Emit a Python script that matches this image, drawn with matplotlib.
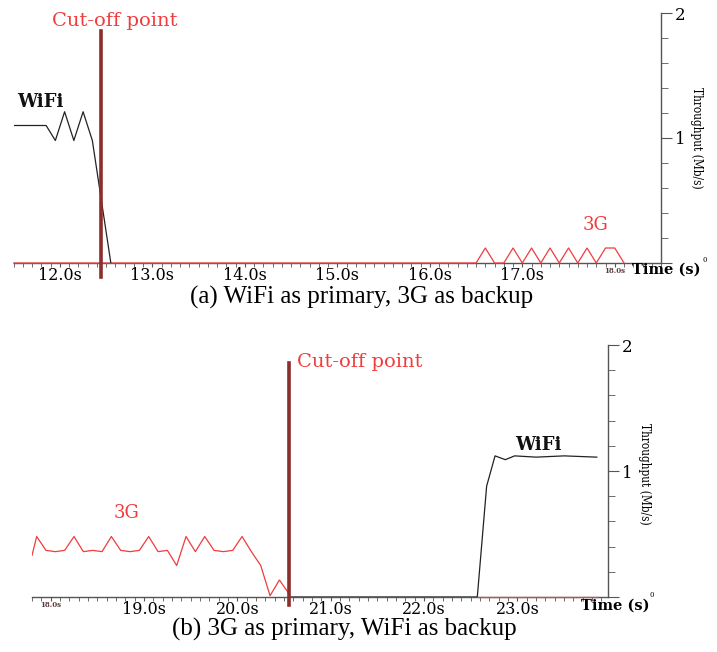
import matplotlib.pyplot as plt
import numpy as np
from matplotlib.ticker import MultipleLocator

W, H = 717, 652
RED = "#f03c3c"
CUT = "#8b2e2e"
GREY = "#555555"

# (a) WiFi primary, 3G backup
wifi_a_t = [11.5, 11.85, 11.95, 12.05, 12.15, 12.25, 12.35, 12.55]
wifi_a_v = [1.10, 1.10, 0.98, 1.21, 0.98, 1.21, 0.98, 0.0]
g3_a_t = [11.5, 16.5, 16.6, 16.7, 16.8, 16.9, 17.0, 17.1, 17.2, 17.3,
          17.4, 17.5, 17.6, 17.7, 17.8, 17.9, 18.0, 18.1]
g3_a_v = [0, 0, 0.12, 0, 0, 0.12, 0, 0.12, 0, 0.12,
          0, 0.12, 0, 0.12, 0, 0.12, 0.12, 0]
cut_a = 12.44
ticks_a = [12, 13, 14, 15, 16, 17, 18]
labels_a = ["12.0s", "13.0s", "14.0s", "15.0s", "16.0s", "17.0s", "18.0s"]

# (b) 3G primary, WiFi backup
g3_b_t = [17.8, 17.85, 17.95, 18.05, 18.15, 18.25, 18.35, 18.45, 18.55, 18.65,
          18.75, 18.85, 18.95, 19.05, 19.15, 19.25, 19.35, 19.45, 19.55, 19.65,
          19.75, 19.85, 19.95, 20.05, 20.15, 20.25, 20.35, 20.45, 20.55]
g3_b_v = [0.33, 0.48, 0.37, 0.36, 0.37, 0.48, 0.36, 0.37, 0.36, 0.48,
          0.37, 0.36, 0.37, 0.48, 0.36, 0.37, 0.25, 0.48, 0.36, 0.48,
          0.37, 0.36, 0.37, 0.48, 0.36, 0.25, 0.01, 0.135, 0.03]
g3_b_tail_t = [22.57, 23.85]
g3_b_tail_v = [0, 0]
wifi_b_t = [20.55, 22.57, 22.67, 22.76, 22.87, 22.97, 23.2, 23.5, 23.85]
wifi_b_v = [0, 0, 0.88, 1.12, 1.09, 1.12, 1.11, 1.12, 1.11]
cut_b = 20.55
ticks_b = [18, 19, 20, 21, 22, 23]
labels_b = ["18.0s", "19.0s", "20.0s", "21.0s", "22.0s", "23.0s"]

fig = plt.figure(figsize=(W / 100, H / 100), dpi=100)


def px_box(x0, x1, y_top, y_bot):
    return [x0 / W, 1 - y_bot / H, (x1 - x0) / W, (y_bot - y_top) / H]


def style_axes(ax, xlim, ticks, labels):
    ax.set_xlim(*xlim)
    ax.set_ylim(0, 2)
    for s in ("top", "left"):
        ax.spines[s].set_visible(False)
    for s in ("bottom", "right"):
        ax.spines[s].set_color(GREY)
        ax.spines[s].set_linewidth(1.0)
    ax.yaxis.tick_right()
    ax.set_yticks([0, 1, 2])
    ax.set_yticklabels(["", "1", "2"], family="DejaVu Serif", fontsize=12)
    ax.yaxis.set_minor_locator(MultipleLocator(0.2))
    ax.tick_params(axis="y", which="major", direction="out", length=8,
                   color=GREY, pad=2)
    ax.tick_params(axis="y", which="minor", direction="out", length=5, color=GREY)
    ax.set_xticks(ticks)
    ax.set_xticklabels(labels, family="DejaVu Serif", fontsize=11.5)
    ax.xaxis.set_minor_locator(MultipleLocator(0.1))
    ax.tick_params(axis="x", which="major", direction="out", length=3,
                   color=GREY, pad=0)
    ax.tick_params(axis="x", which="minor", direction="out", length=3, color=GREY)
    for lab in ax.get_xticklabels():
        if lab.get_text() == "18.0s":
            lab.set_fontsize(5)
            lab.set_fontweight("bold")
            lab.set_color("#5a3a3a")


# ---- panel (a)
ax1 = fig.add_axes(px_box(13.75, 661, 13, 263))
style_axes(ax1, (11.5, 18.5), ticks_a, labels_a)
ax1.plot(g3_a_t, g3_a_v, color=RED, lw=0.9, clip_on=False, zorder=3)
ax1.plot(wifi_a_t, wifi_a_v, color="#222222", lw=0.9, zorder=3)
ax1.plot([cut_a, cut_a], [-0.11, 1.86], color=CUT, lw=2.6, clip_on=False, zorder=4)
ax1.text(11.91, 1.94, "Cut-off point", color=RED, family="DejaVu Serif",
         fontsize=14, ha="left", va="center")
ax1.text(11.535, 1.29, "WiFi", color="#111111", family="DejaVu Serif",
         fontsize=13, fontweight="bold", ha="left", va="center")
ax1.text(17.65, 0.30, "3G", color=RED, family="DejaVu Serif",
         fontsize=13, ha="left", va="center")

# ---- panel (b)
ax2 = fig.add_axes(px_box(32, 608, 345, 597))
style_axes(ax2, (17.8, 23.97), ticks_b, labels_b)
ax2.plot(wifi_b_t, wifi_b_v, color="#222222", lw=0.9, zorder=3)
ax2.plot(g3_b_t, g3_b_v, color=RED, lw=0.9, zorder=3)
ax2.plot(g3_b_tail_t, g3_b_tail_v, color=RED, lw=0.9, clip_on=False, zorder=3)
ax2.plot([cut_b, cut_b], [-0.06, 1.86], color=CUT, lw=2.6, clip_on=False, zorder=4)
ax2.text(20.64, 1.865, "Cut-off point", color=RED, family="DejaVu Serif",
         fontsize=14, ha="left", va="center")
ax2.text(18.67, 0.667, "3G", color=RED, family="DejaVu Serif",
         fontsize=13, ha="left", va="center")
ax2.text(22.98, 1.21, "WiFi", color="#111111", family="DejaVu Serif",
         fontsize=13, fontweight="bold", ha="left", va="center")

# axis titles placed around the right spine corner
for (tx, ty), (yx, yy), (zx, zy) in [((666, 270), (697, 138), (705, 260)),
                                     ((615, 606), (645, 474), (652, 595))]:
    fig.text(tx / W, 1 - ty / H, "Time (s)", family="DejaVu Serif",
             fontsize=10.5, fontweight="bold", ha="center", va="center")
    fig.text(yx / W, 1 - yy / H, "Throughput (Mb/s)", family="DejaVu Serif",
             fontstretch="condensed", fontsize=8.5, rotation=270,
             ha="center", va="center")
    fig.text(zx / W, 1 - zy / H, "0", family="DejaVu Serif", fontsize=5,
             ha="center", va="center")

fig.text(362 / W, 1 - 297 / H, "(a) WiFi as primary, 3G as backup",
         family="Liberation Serif", fontsize=18, ha="center", va="center")
fig.text(344 / W, 1 - 629 / H, "(b) 3G as primary, WiFi as backup",
         family="Liberation Serif", fontsize=18, ha="center", va="center")

fig.savefig("out.png", dpi=100)
